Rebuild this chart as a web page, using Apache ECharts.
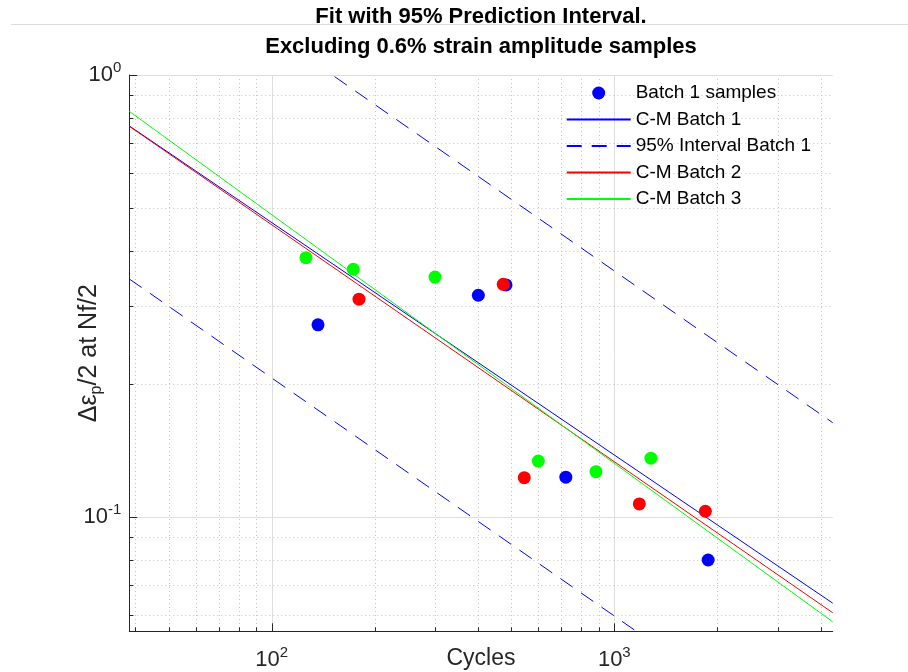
<!DOCTYPE html>
<html><head><meta charset="utf-8">
<script src="https://cdn.jsdelivr.net/npm/echarts@6/dist/echarts.min.js"></script>
<style>html,body{margin:0;padding:0;background:#fff}#c{width:908px;height:672px}</style>
</head><body><div id="c"></div><script>
const titleText = 'Fit with 95% Prediction Interval.\nExcluding 0.6% strain amplitude samples';
const xName = 'Cycles';
const yNameRich = 'Δε{sub|p}/2 at Nf/2';
const xLimits = [38.4, 4340];
const yLimits = [0.0551, 1];
const batch1Cycles = [136.5, 401, 483, 722, 1879];
const batch1Strain = [0.272, 0.3174, 0.3349, 0.123, 0.0799];
const batch2Cycles = [179.8, 474, 546, 1183, 1844];
const batch2Strain = [0.3109, 0.336, 0.1227, 0.107, 0.103];
const batch3Cycles = [125.9, 173, 299.7, 600, 884, 1279];
const batch3Strain = [0.386, 0.3634, 0.349, 0.1338, 0.1266, 0.1358];
const fitCycles = [38.4, 4340];
const cmBatch1 = [0.767, 0.0638];
const upper95Batch1 = [2.085, 0.1634];
const lower95Batch1 = [0.3455, 0.02706];
const cmBatch2 = [0.7655, 0.0607];
const cmBatch3 = [0.8276, 0.0579];
const xMajorTicks = [100, 1000];
const xMinorTicks = [40, 50, 60, 70, 80, 90, 200, 300, 400, 500, 600, 700, 800, 900, 2000, 3000, 4000];
const yMajorTicks = [0.1, 1];
const yMinorTicks = [0.06, 0.07, 0.08, 0.09, 0.2, 0.3, 0.4, 0.5, 0.6, 0.7, 0.8, 0.9];
const legendNames = ['Batch 1 samples', 'C-M Batch 1', '95% Interval Batch 1', 'C-M Batch 2', 'C-M Batch 3'];

const FONT = '"Liberation Sans", Helvetica, Arial, sans-serif';
const AXC = '#262626';
const zip = (a, b) => a.map((v, i) => [v, b[i]]);

function powLabel(v) {
  const e = Math.round(Math.log10(v));
  if (Math.abs(Math.log10(v) - e) > 1e-6) return '';
  return '{b|10}{s|' + e + '}';
}
const labelRich = {
  b: { fontSize: 22, fontFamily: FONT, color: AXC, lineHeight: 30, verticalAlign: 'middle' },
  s: { fontSize: 15, fontFamily: FONT, color: AXC, lineHeight: 14, verticalAlign: 'top' }
};

function gridRender(isX, major) {
  return function (params, api) {
    const cs = params.coordSys;
    const p = api.coord([api.value(0), api.value(1)]);
    const tl = major ? 8 : 4;
    let line, tick;
    if (isX) {
      const x = Math.round(p[0]) + 0.5;
      line = { x1: x, y1: cs.y, x2: x, y2: cs.y + cs.height };
      tick = { x1: x, y1: cs.y + cs.height, x2: x, y2: cs.y + cs.height - tl };
    } else {
      const y = Math.round(p[1]) + 0.5;
      line = { x1: cs.x, y1: y, x2: cs.x + cs.width, y2: y };
      tick = { x1: cs.x, y1: y, x2: cs.x + tl, y2: y };
    }
    return {
      type: 'group',
      children: [
        { type: 'line', shape: line, style: major ? { stroke: '#dedede', lineWidth: 1 } : { stroke: '#c4c4c4', lineWidth: 1, lineDash: [1, 3] } },
        { type: 'line', shape: tick, style: { stroke: AXC, lineWidth: 1 } }
      ]
    };
  };
}
function gridSeries(data, isX, major) {
  return { type: 'custom', silent: true, z: 0, clip: false, renderItem: gridRender(isX, major), data: data };
}
const hideSym = { opacity: 0 };

const chart = echarts.init(document.getElementById('c'), null, { renderer: 'canvas' });
chart.setOption({
  animation: false,
  backgroundColor: '#fff',
  title: {
    text: titleText, left: 481, top: 2, padding: 0, textAlign: 'center',
    textStyle: { fontSize: 22, fontWeight: 'bold', fontFamily: FONT, color: '#000', lineHeight: 30 }
  },
  graphic: [{ type: 'line', z: -1, silent: true, shape: { x1: 11, y1: 24.5, x2: 908, y2: 24.5 }, style: { stroke: '#dcdcdc', lineWidth: 1 } }],
  grid: { left: 129.3, right: 75.3, top: 75, bottom: 40.7, containLabel: false, outerBoundsMode: 'none' },
  legend: {
    data: [
      { name: legendNames[0] },
      { name: legendNames[1], itemStyle: hideSym },
      { name: legendNames[2], itemStyle: hideSym },
      { name: legendNames[3], itemStyle: hideSym },
      { name: legendNames[4], itemStyle: hideSym }
    ],
    orient: 'vertical', left: 565.7, top: 83.5, padding: 0,
    itemWidth: 64, itemHeight: 13, itemGap: 7.5, selectedMode: false,
    textStyle: { fontSize: 19, fontFamily: FONT, color: '#000' }
  },
  xAxis: {
    type: 'log', logBase: 10, min: xLimits[0], max: xLimits[1],
    axisLine: { show: true, onZero: false, lineStyle: { color: AXC, width: 1 } },
    axisTick: { show: false }, splitLine: { show: false },
    axisLabel: { formatter: powLabel, rich: labelRich, margin: 14 },
    name: xName, nameLocation: 'middle', nameGap: 16, nameMoveOverlap: false,
    nameTextStyle: { fontSize: 23, fontFamily: FONT, color: AXC }
  },
  yAxis: {
    type: 'log', logBase: 10, min: yLimits[0], max: yLimits[1],
    axisLine: { show: true, onZero: false, lineStyle: { color: AXC, width: 1 } },
    axisTick: { show: false }, splitLine: { show: false },
    axisLabel: { formatter: powLabel, rich: labelRich, margin: 8 },
    name: yNameRich, nameLocation: 'middle', nameGap: 25, nameRotate: 90, nameMoveOverlap: false,
    nameTextStyle: { fontSize: 25, fontFamily: FONT, color: AXC, lineHeight: 30,
      rich: { sub: { fontSize: 16, fontFamily: FONT, color: AXC, lineHeight: 16, verticalAlign: 'bottom' } } }
  },
  series: [
    gridSeries(xMinorTicks.map(v => [v, 1]), true, false),
    gridSeries(xMajorTicks.map(v => [v, 1]), true, true),
    gridSeries(yMinorTicks.map(v => [100, v]), false, false),
    gridSeries(yMajorTicks.map(v => [100, v]), false, true),
    { name: 'Batch 1 samples', type: 'scatter', z: 3, symbol: 'circle', symbolSize: 13, itemStyle: { color: '#0000ff', opacity: 1 }, data: zip(batch1Cycles, batch1Strain) },
    { name: 'C-M Batch 1', type: 'line', z: 2, symbol: 'none', clip: true, lineStyle: { color: '#0000ff', width: 1 }, itemStyle: { color: '#0000ff' }, data: zip(fitCycles, cmBatch1) },
    { name: '95% Interval Batch 1', type: 'line', z: 2, symbol: 'none', clip: true, lineStyle: { color: '#0000ff', width: 1, type: [15, 10] }, itemStyle: { color: '#0000ff' }, data: zip(fitCycles, upper95Batch1) },
    { name: '95% Interval Batch 1', type: 'line', z: 2, symbol: 'none', clip: true, lineStyle: { color: '#0000ff', width: 1, type: [15, 10] }, itemStyle: { color: '#0000ff' }, data: zip(fitCycles, lower95Batch1) },
    { name: 'C-M Batch 2', type: 'line', z: 2, symbol: 'none', clip: true, lineStyle: { color: '#ff0000', width: 1 }, itemStyle: { color: '#ff0000' }, data: zip(fitCycles, cmBatch2) },
    { name: 'C-M Batch 3', type: 'line', z: 2, symbol: 'none', clip: true, lineStyle: { color: '#00ff00', width: 1 }, itemStyle: { color: '#00ff00' }, data: zip(fitCycles, cmBatch3) },
    { name: 'Batch 2 samples', type: 'scatter', z: 3, symbol: 'circle', symbolSize: 13, itemStyle: { color: '#ff0000', opacity: 1 }, data: zip(batch2Cycles, batch2Strain) },
    { name: 'Batch 3 samples', type: 'scatter', z: 3, symbol: 'circle', symbolSize: 13, itemStyle: { color: '#00ff00', opacity: 1 }, data: zip(batch3Cycles, batch3Strain) }
  ]
});
</script></body></html>
